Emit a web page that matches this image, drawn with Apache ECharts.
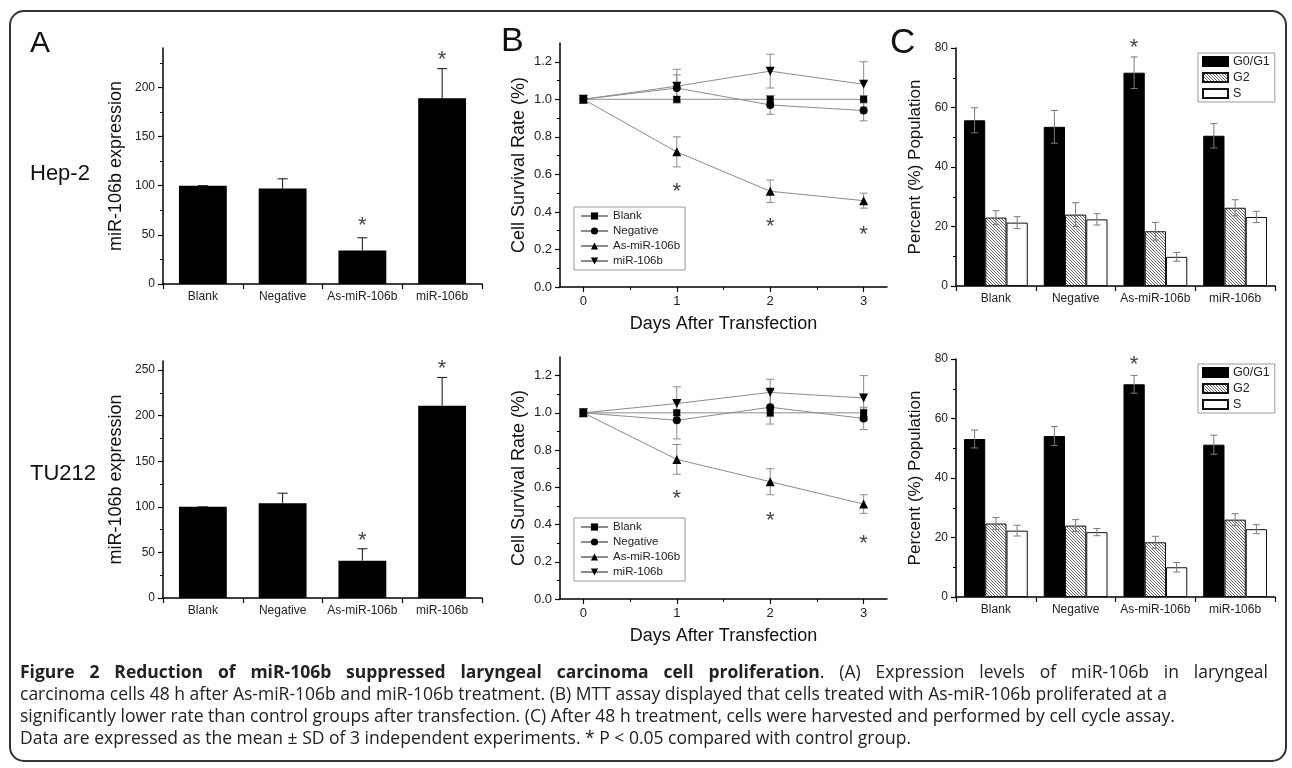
<!DOCTYPE html>
<html><head><meta charset="utf-8">
<script src="https://cdn.jsdelivr.net/npm/echarts@6/dist/echarts.min.js"></script>
<style>html,body{margin:0;padding:0;background:#fff}#c{width:1292px;height:768px}</style>
</head><body><div id="c"></div>
<script>
// ---------- DATA ----------
const groups = ['Blank', 'Negative', 'As-miR-106b', 'miR-106b'];
const lineNames = ['Blank', 'Negative', 'As-miR-106b', 'miR-106b'];
const phaseNames = ['G0/G1', 'G2', 'S'];

// Panel A: miR-106b expression
const aHepMean = [100, 97, 34, 189];
const aHepSD   = [0, 10, 13, 30];
const aHepStars = [[2, 65], [3, 234]];
const aTuMean  = [100, 104, 41, 211];
const aTuSD    = [0, 11, 13, 31];
const aTuStars = [[2, 69], [3, 258]];
const aHepMajor = [0, 50, 100, 150, 200];
const aHepMinor = [25, 75, 125, 175, 225];
const aTuMajor  = [0, 50, 100, 150, 200, 250];
const aTuMinor  = [25, 75, 125, 175, 225];

// Panel B: cell survival rate (days 0-3)
const days = [0, 1, 2, 3];
const dayMinor = [0.5, 1.5, 2.5];
const bHepBlank = [1.00, 1.00, 1.00, 1.00];
const bHepBlankSD = [0.01, 0.015, 0.02, 0.02];
const bHepNeg = [1.00, 1.06, 0.97, 0.94];
const bHepNegSD = [0.01, 0.07, 0.05, 0.055];
const bHepAs = [1.00, 0.72, 0.51, 0.46];
const bHepAsSD = [0.01, 0.08, 0.06, 0.04];
const bHepMiR = [1.00, 1.07, 1.15, 1.08];
const bHepMiRSD = [0.01, 0.09, 0.09, 0.12];
const bHepStars = [[1, 0.54], [2, 0.35], [3, 0.31]];
const bTuBlank = [1.00, 1.00, 1.00, 1.00];
const bTuBlankSD = [0.01, 0.015, 0.02, 0.02];
const bTuNeg = [1.00, 0.96, 1.03, 0.97];
const bTuNegSD = [0.01, 0.10, 0.09, 0.06];
const bTuAs = [1.00, 0.75, 0.63, 0.51];
const bTuAsSD = [0.01, 0.08, 0.07, 0.05];
const bTuMiR = [1.00, 1.05, 1.11, 1.08];
const bTuMiRSD = [0.01, 0.09, 0.07, 0.12];
const bTuStars = [[1, 0.57], [2, 0.45], [3, 0.33]];
const bMajor = [0, 0.2, 0.4, 0.6, 0.8, 1.0, 1.2];
const bMinor = [0.1, 0.3, 0.5, 0.7, 0.9, 1.1];

// Panel C: cell cycle distribution
const cHepG0 = [55.7, 53.5, 71.7, 50.5];
const cHepG0SD = [4.2, 5.5, 5.3, 4.1];
const cHepG2 = [23.0, 24.0, 18.4, 26.3];
const cHepG2SD = [2.3, 4.0, 3.0, 2.7];
const cHepS = [21.3, 22.4, 9.8, 23.2];
const cHepSSD = [2.0, 1.9, 1.5, 1.9];
const cHepStars = [[2, 82]];
const cTuG0 = [53.1, 54.1, 71.5, 51.2];
const cTuG0SD = [3.0, 3.2, 3.0, 3.2];
const cTuG2 = [24.7, 24.0, 18.4, 26.0];
const cTuG2SD = [2.0, 2.0, 2.0, 2.0];
const cTuS = [22.3, 21.8, 10.0, 22.8];
const cTuSSD = [1.8, 1.2, 1.6, 1.5];
const cTuStars = [[2, 80]];
const cMajor = [0, 20, 40, 60, 80];
const cMinor = [10, 30, 50, 70];

// Caption text
const cap1Bold = 'Figure 2 Reduction of miR-106b suppressed laryngeal carcinoma cell proliferation';
const cap1Rest = '. (A) Expression levels of miR-106b in laryngeal';
const cap2 = 'carcinoma cells 48 h after As-miR-106b and miR-106b treatment. (B) MTT assay displayed that cells treated with As-miR-106b proliferated at a';
const cap3 = 'significantly lower rate than control groups after transfection. (C) After 48 h treatment, cells were harvested and performed by cell cycle assay.';
const cap4 = 'Data are expressed as the mean \u00b1 SD of 3 independent experiments. * P < 0.05 compared with control group.';

// ---------- STYLE HELPERS ----------
const FONT = '"Liberation Sans", Arial, sans-serif';
const CAP_FONT = '"Open Sans", "Noto Sans", sans-serif';
const CAP_SIZE = 17.5;

function makeHatch() {
  const c = document.createElement('canvas');
  c.width = 3; c.height = 3;
  const x = c.getContext('2d');
  x.fillStyle = '#fff'; x.fillRect(0, 0, 3, 3);
  x.fillStyle = '#6a6a6a';
  for (let i = 0; i < 3; i++) x.fillRect(i, i, 1, 1);
  return c;
}
const hatch = makeHatch();

function yMain(g, min, max, major, name, nameGap, nameSize, labelSize, fmt) {
  return {
    type: 'value', gridIndex: g, position: 'left', min: min, max: max,
    axisLine: { show: true, onZero: false, lineStyle: { color: '#000', width: 1.5 } },
    axisTick: { show: true, length: 5, customValues: major, lineStyle: { color: '#000', width: 1.2 } },
    axisLabel: { customValues: major, fontSize: labelSize, color: '#222', fontFamily: FONT, margin: 8, formatter: fmt },
    splitLine: { show: false },
    name: name, nameLocation: 'middle', nameGap: nameGap,
    nameTextStyle: { fontSize: nameSize, fontFamily: FONT, color: '#111' }
  };
}
function yMinor(g, min, max, minor) {
  return {
    type: 'value', gridIndex: g, position: 'left', offset: 0, min: min, max: max,
    axisLine: { show: false, onZero: false },
    axisTick: { show: true, length: 3, customValues: minor, lineStyle: { color: '#000', width: 1 } },
    axisLabel: { show: false }, splitLine: { show: false }
  };
}
function xCat(g) {
  return {
    type: 'category', gridIndex: g, data: groups, position: 'bottom',
    axisLine: { onZero: false, lineStyle: { color: '#000', width: 1.5 } },
    axisTick: { show: true, length: 5, alignWithLabel: false, lineStyle: { color: '#000', width: 1.2 } },
    axisLabel: { fontSize: 12, color: '#222', fontFamily: FONT, margin: 7, interval: 0 },
    splitLine: { show: false }
  };
}
function xDays(g) {
  return {
    type: 'value', gridIndex: g, position: 'bottom', min: -0.25, max: 3.25,
    axisLine: { onZero: false, lineStyle: { color: '#000', width: 1.5 } },
    axisTick: { show: true, length: 5, customValues: days, lineStyle: { color: '#000', width: 1.2 } },
    axisLabel: { customValues: days, fontSize: 13, color: '#222', fontFamily: FONT, margin: 8 },
    splitLine: { show: false },
    name: 'Days After Transfection', nameLocation: 'middle', nameGap: 28,
    nameTextStyle: { fontSize: 18, fontFamily: FONT, color: '#111' }
  };
}
function xDaysMinor(g) {
  return {
    type: 'value', gridIndex: g, position: 'bottom', offset: 0, min: -0.25, max: 3.25,
    axisLine: { show: false, onZero: false },
    axisTick: { show: true, length: 3, customValues: dayMinor, lineStyle: { color: '#000', width: 1 } },
    axisLabel: { show: false }, splitLine: { show: false }
  };
}

// error bar series (custom): data [x, mean, sd]; k = bar offset index (for grouped bars)
function errSeries(xi, yi, means, sds, opt) {
  const xs = opt.xs || means.map((_, i) => i);
  return {
    type: 'custom', xAxisIndex: xi, yAxisIndex: yi, silent: true, z: opt.z || 3,
    data: means.map((m, i) => [xs[i], m, sds[i]]),
    renderItem: function (params, api) {
      const x = api.value(0), m = api.value(1), s = api.value(2);
      let dx = 0;
      if (opt.k !== undefined) dx = opt.k * api.size([1, 0])[0] * 0.8 / 3;
      const pt = api.coord([x, m + s]);
      const pb = api.coord([x, opt.upOnly ? m : m - s]);
      const cx = pt[0] + dx, hw = opt.cap / 2;
      const st = { stroke: opt.color, lineWidth: opt.width || 1 };
      const ch = [
        { type: 'line', shape: { x1: cx, y1: pt[1], x2: cx, y2: pb[1] }, style: st },
        { type: 'line', shape: { x1: cx - hw, y1: pt[1], x2: cx + hw, y2: pt[1] }, style: st }
      ];
      if (!opt.upOnly) ch.push({ type: 'line', shape: { x1: cx - hw, y1: pb[1], x2: cx + hw, y2: pb[1] }, style: st });
      return { type: 'group', children: ch };
    }
  };
}
function starSeries(xi, yi, pts, k) {
  return {
    type: 'custom', xAxisIndex: xi, yAxisIndex: yi, silent: true, z: 5,
    data: pts,
    renderItem: function (params, api) {
      const p = api.coord([api.value(0), api.value(1)]);
      let dx = 0;
      if (k !== undefined) dx = k * api.size([1, 0])[0] * 0.8 / 3;
      return { type: 'text', x: p[0] + dx, y: p[1] + 6,
        style: { text: '*', fontSize: 22, fontFamily: FONT, fill: '#444', align: 'center', verticalAlign: 'middle' } };
    }
  };
}
function lineSeries(xi, yi, name, vals, sym, rot, size) {
  return {
    type: 'line', name: name, xAxisIndex: xi, yAxisIndex: yi,
    data: days.map((d, i) => [d, vals[i]]),
    symbol: sym, symbolRotate: rot, symbolSize: size, showSymbol: true,
    itemStyle: { color: '#000' }, lineStyle: { color: '#8c8c8c', width: 1 }, z: 4
  };
}
function barSeriesC(xi, yi, name, vals) {
  const styles = {
    'G0/G1': { color: '#000', borderColor: '#000', borderWidth: 1 },
    'G2': { color: { image: hatch, repeat: 'repeat' }, borderColor: '#111', borderWidth: 1 },
    'S': { color: '#fff', borderColor: '#111', borderWidth: 1 }
  };
  return { type: 'bar', name: name, xAxisIndex: xi, yAxisIndex: yi, data: vals,
    barGap: '0%', barCategoryGap: '20%', itemStyle: styles[name], silent: true, z: 2 };
}
const bSym = [['rect', 0, 7], ['circle', 0, 8], ['triangle', 0, 9], ['triangle', 180, 9]];

// ---------- OPTION ----------
const grids = [
  { left: 163, top: 48, width: 319, height: 236 },
  { left: 163, top: 361, width: 319, height: 237 },
  { left: 560, top: 43, width: 327, height: 244 },
  { left: 560, top: 357, width: 327, height: 242 },
  { left: 956, top: 48, width: 319, height: 238 },
  { left: 956, top: 359, width: 319, height: 238 }
].map(g => Object.assign({ outerBoundsMode: 'none', containLabel: false }, g));

const f1 = v => v.toFixed(1);
const yAxes = [
  yMain(0, 0, 240, aHepMajor, 'miR-106b expression', 38, 18, 12),
  yMain(1, 0, 260, aTuMajor, 'miR-106b expression', 38, 18, 12),
  yMain(2, 0, 1.3, bMajor, 'Cell Survival Rate (%)', 32, 18, 13, f1),
  yMain(3, 0, 1.3, bMajor, 'Cell Survival Rate (%)', 32, 18, 13, f1),
  yMain(4, 0, 80, cMajor, 'Percent (%) Population', 32, 17, 12),
  yMain(5, 0, 80, cMajor, 'Percent (%) Population', 32, 17, 12),
  yMinor(0, 0, 240, aHepMinor),
  yMinor(1, 0, 260, aTuMinor),
  yMinor(2, 0, 1.3, bMinor),
  yMinor(3, 0, 1.3, bMinor),
  yMinor(4, 0, 80, cMinor),
  yMinor(5, 0, 80, cMinor)
];
const xAxes = [xCat(0), xCat(1), xDays(2), xDays(3), xCat(4), xCat(5), xDaysMinor(2), xDaysMinor(3)];

const series = [];
// A
series.push({ type: 'bar', name: 'A-Hep2', xAxisIndex: 0, yAxisIndex: 0, data: aHepMean, barWidth: '60%', itemStyle: { color: '#000' }, silent: true });
series.push(errSeries(0, 0, aHepMean, aHepSD, { upOnly: true, color: '#111', cap: 10 }));
series.push(starSeries(0, 0, aHepStars));
series.push({ type: 'bar', name: 'A-TU212', xAxisIndex: 1, yAxisIndex: 1, data: aTuMean, barWidth: '60%', itemStyle: { color: '#000' }, silent: true });
series.push(errSeries(1, 1, aTuMean, aTuSD, { upOnly: true, color: '#111', cap: 10 }));
series.push(starSeries(1, 1, aTuStars));
// B
const bHep = [[bHepBlank, bHepBlankSD], [bHepNeg, bHepNegSD], [bHepAs, bHepAsSD], [bHepMiR, bHepMiRSD]];
const bTu = [[bTuBlank, bTuBlankSD], [bTuNeg, bTuNegSD], [bTuAs, bTuAsSD], [bTuMiR, bTuMiRSD]];
[[2, bHep, bHepStars], [3, bTu, bTuStars]].forEach(([g, sets, stars]) => {
  sets.forEach((s) => series.push(errSeries(g, g, s[0], s[1], { xs: days, color: '#8a8a8a', cap: 8, z: 1 })));
  sets.forEach((s, i) => series.push(lineSeries(g, g, lineNames[i], s[0], bSym[i][0], bSym[i][1], bSym[i][2])));
  series.push(starSeries(g, g, stars));
});
// C
const cHep = [[cHepG0, cHepG0SD], [cHepG2, cHepG2SD], [cHepS, cHepSSD]];
const cTu = [[cTuG0, cTuG0SD], [cTuG2, cTuG2SD], [cTuS, cTuSSD]];
[[4, cHep, cHepStars], [5, cTu, cTuStars]].forEach(([g, sets, stars]) => {
  sets.forEach((s, i) => series.push(barSeriesC(g, g, phaseNames[i], s[0])));
  sets.forEach((s, i) => series.push(errSeries(g, g, s[0], s[1], { k: i - 1, color: '#7a7a7a', cap: 7, z: 3 })));
  series.push(starSeries(g, g, stars, -1));
});

function legendB(top) {
  return { data: lineNames, left: 574, top: top, orient: 'vertical', selectedMode: false,
    itemWidth: 27, itemHeight: 9, itemGap: 3, padding: [3, 5, 3, 6],
    borderColor: '#999', borderWidth: 1, backgroundColor: '#fff',
    textStyle: { fontSize: 11.5, fontFamily: FONT, color: '#222', lineHeight: 12 } };
}
function legendC(top) {
  return { data: phaseNames, left: 1198, top: top, orient: 'vertical', selectedMode: false,
    icon: 'rect', itemWidth: 25, itemHeight: 9, itemGap: 3, padding: [2, 5, 2, 4],
    borderColor: '#999', borderWidth: 1, backgroundColor: '#fff',
    textStyle: { fontSize: 12.5, fontFamily: FONT, color: '#222', lineHeight: 12 } };
}

function txt(x, y, text, size, align) {
  return { type: 'text', silent: true,
    style: { x: x, y: y, text: text, font: size + 'px ' + FONT, fill: '#111', align: align || 'left', verticalAlign: 'middle' } };
}
function capText(x, y, text, bold) {
  return { type: 'text', silent: true,
    style: { x: x, y: y, text: text, fontSize: CAP_SIZE, fontFamily: CAP_FONT, fontWeight: bold ? 'bold' : 'normal',
      fill: '#222', align: 'left', verticalAlign: 'middle' } };
}

// justified first caption line (bold title + regular text), spread between x=20 and x=1268
function justifiedLine1(y) {
  const ctx = document.createElement('canvas').getContext('2d');
  const fontOf = b => (b ? 'bold ' : '') + CAP_SIZE + 'px "Open Sans", "Noto Sans", sans-serif';
  const bw = cap1Bold.split(' ');
  const rest = cap1Rest.slice(1).trim().split(' ');
  const tokens = bw.map(w => [[w, true]]);
  tokens[tokens.length - 1].push([cap1Rest.charAt(0), false]);
  rest.forEach(w => tokens.push([[w, false]]));
  const widths = tokens.map(t => t.reduce((s, r) => { ctx.font = fontOf(r[1]); return s + ctx.measureText(r[0]).width; }, 0));
  const total = widths.reduce((a, b) => a + b, 0);
  const gap = (1268 - 20 - total) / (tokens.length - 1);
  const els = [];
  let x = 20;
  tokens.forEach((t, i) => {
    let xx = x;
    t.forEach(r => { els.push(capText(xx, y, r[0], r[1])); ctx.font = fontOf(r[1]); xx += ctx.measureText(r[0]).width; });
    x += widths[i] + gap;
  });
  return els;
}

const graphic = [
  { type: 'rect', silent: true, shape: { x: 10, y: 11, width: 1276, height: 750, r: 14 }, style: { fill: 'none', stroke: '#333', lineWidth: 2 } },
  txt(30, 44, 'A', 30),
  txt(501, 42, 'B', 34),
  txt(890, 43, 'C', 35),
  txt(30, 174, 'Hep-2', 22),
  txt(30, 474, 'TU212', 22)
].concat(justifiedLine1(673), [
  capText(20, 695, cap2, false),
  capText(20, 717, cap3, false),
  capText(20, 739, cap4, false)
]);

const option = {
  animation: false,
  backgroundColor: '#fff',
  grid: grids,
  xAxis: xAxes,
  yAxis: yAxes,
  legend: [legendB(207), legendB(518), legendC(53), legendC(364)],
  series: series,
  graphic: graphic
};
const chart = echarts.init(document.getElementById('c'), null, { width: 1292, height: 768 });
chart.setOption(option);
</script>
</body></html>
